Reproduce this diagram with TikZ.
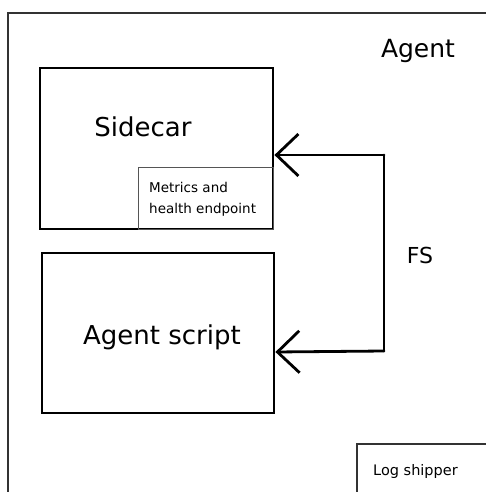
\documentclass[tikz,border=0pt]{standalone}
\usepackage{fontspec}
\setmainfont{DejaVu Sans}
\usetikzlibrary{arrows.meta}
\definecolor{framegray}{HTML}{333333}
\definecolor{thingray}{HTML}{555555}
\tikzset{
  mainbox/.style={draw=black, line width=2.8pt, minimum width=#1, inner sep=0pt},
  smallbox/.style={draw=thingray, line width=1pt, inner sep=0pt},
  framepath/.style={draw=framegray, line width=1.5pt},
  fsline/.style={draw=black, line width=2.8pt, line cap=round, line join=miter},
  fsarrow/.style={fsline, -{Straight Barb[length=22pt, width=42pt, line width=2.8pt]}},
  lbl/.style={inner sep=0pt, text=black}
}
\begin{document}
\begin{tikzpicture}[x=1pt, y=-1pt]
  \useasboundingbox (0,0) rectangle (485,492);
  \fill[white] (0,0) rectangle (485,492);

  % Agent frame (runs off the right and bottom edges)
  \coordinate (frameBL) at (8,500);
  \coordinate (frameTL) at (8,13);
  \coordinate (frameTR) at (500,13);
  \draw[framepath] (frameBL) -- (frameTL) -- (frameTR);
  \node[lbl, font=\fontsize{25}{29}\selectfont] (agentlbl) at (418,51) {Agent};

  % Sidecar container
  \node[mainbox=233pt, minimum height=161pt] (sidecar) at (156.5,148.5) {};
  \node[lbl, font=\fontsize{26}{30}\selectfont] (sidecarlbl) at (143,127) {Sidecar};

  % Metrics and health endpoint
  \node[smallbox, minimum width=135pt, minimum height=62pt] (metrics) at (205.5,198) {};
  \node[lbl, anchor=west, align=left, font=\fontsize{13.5}{21}\selectfont] (metricslbl) at (149,199)
    {Metrics and\\health endpoint};

  % Agent script
  \node[mainbox=232pt, minimum height=160pt] (agentscript) at (158,333) {};
  \node[lbl, font=\fontsize{26}{30}\selectfont] (agentscriptlbl) at (162,337) {Agent script};

  % Shared file system link
  \coordinate (fsTop) at (384,155);
  \coordinate (fsBot) at (384,351);
  \draw[fsline] (fsTop) -- (fsBot);
  \draw[fsarrow] (fsTop) -- (sidecar.east |- fsTop);
  \draw[fsarrow] (fsBot) -- ([yshift=-1pt]agentscript.east |- fsBot);
  \node[lbl, font=\fontsize{22}{26}\selectfont] (fslbl) at (420,255) {FS};

  % Log shipper (runs off the right and bottom edges)
  \coordinate (logBL) at (357,500);
  \coordinate (logTL) at (357,444);
  \coordinate (logTR) at (500,444);
  \draw[framepath] (logBL) -- (logTL) -- (logTR);
  \node[lbl, anchor=west, font=\fontsize{14.5}{17}\selectfont] (loglbl) at (373,471) {Log shipper};
\end{tikzpicture}
\end{document}
